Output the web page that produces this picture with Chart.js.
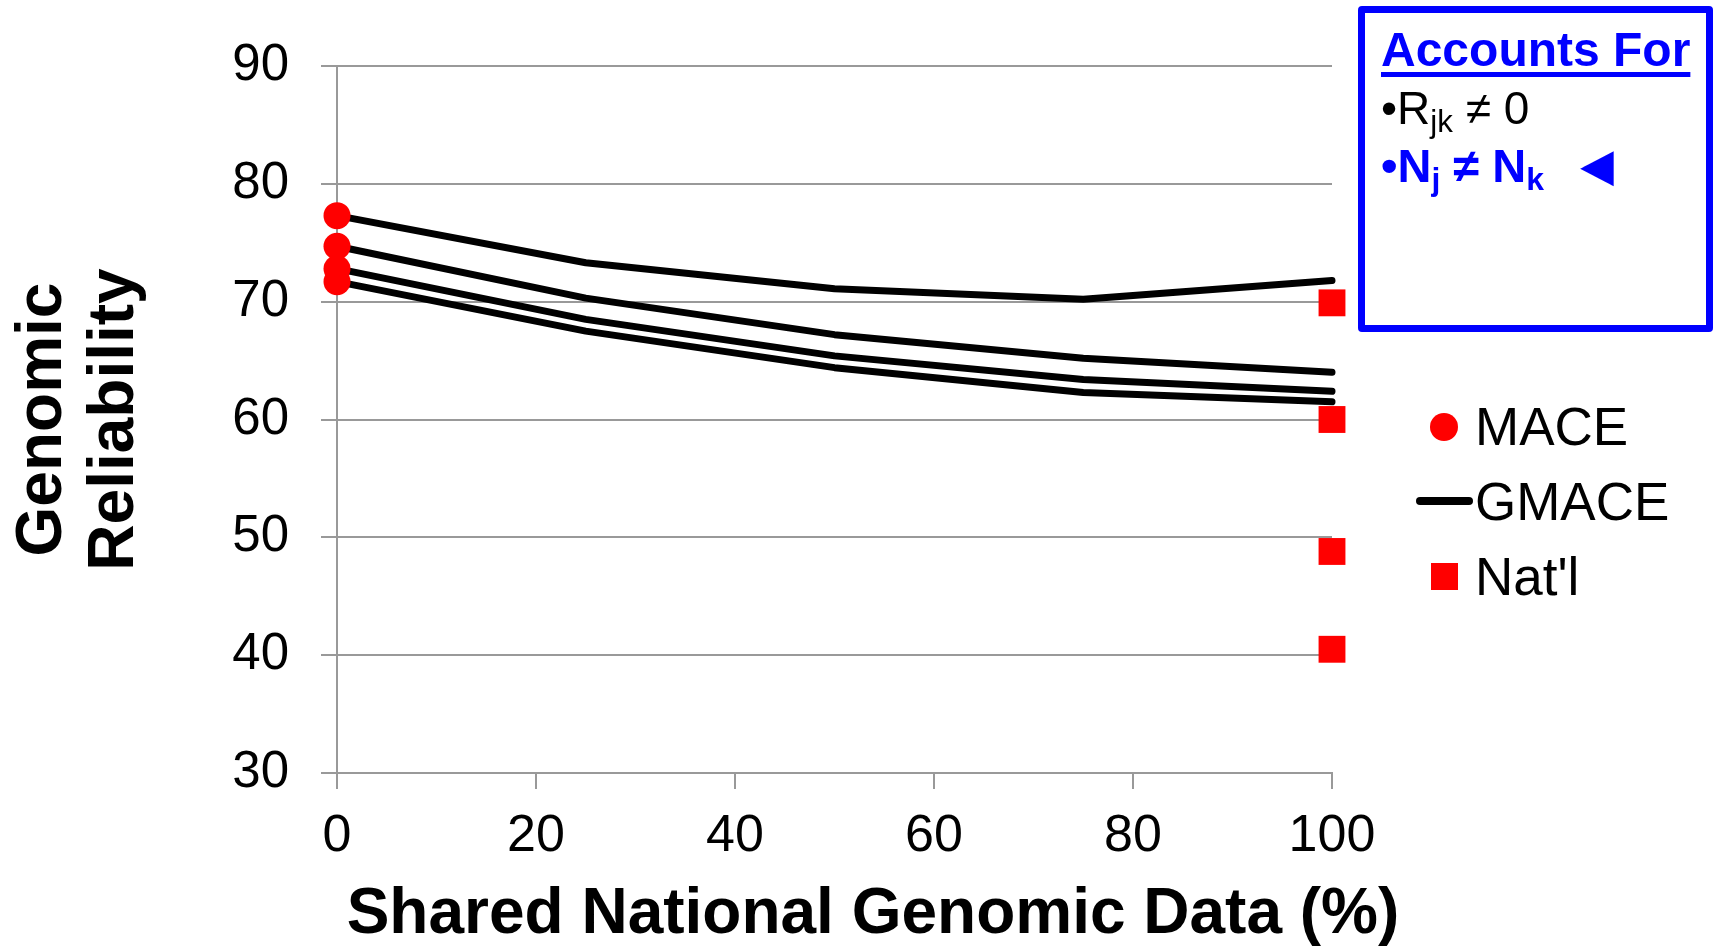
<!DOCTYPE html>
<html>
<head>
<meta charset="utf-8">
<script src="https://cdn.jsdelivr.net/npm/chart.js@4/dist/chart.umd.min.js"></script>
<style>
  body { margin: 0; overflow: hidden; background: #fff; font-family: 'Liberation Sans', Arial, sans-serif; }
  #wrap { position: relative; width: 1716px; height: 947px; }
  .abs { position: absolute; white-space: nowrap; line-height: 1; }
  sub { font-size: 0.68em; vertical-align: -0.25em; line-height: 0; }
  .box { position: absolute; left: 1358px; top: 6px; width: 355px; height: 326px; box-sizing: border-box;
         border: 7px solid #0000ff; border-radius: 4px; }
</style>
</head>
<body>
<div id="wrap">
  <canvas id="chart" width="1716" height="947"></canvas>

  <!-- x axis title -->
  <div class="abs" style="left:273px;width:1200px;text-align:center;top:879px;font-size:64px;font-weight:bold;">Shared National Genomic Data (%)</div>

  <!-- legend -->
  <div class="abs" style="left:1430px;top:413px;width:28px;height:28px;border-radius:50%;background:#ff0000;"></div>
  <div class="abs" style="left:1416px;top:497px;width:57px;height:8px;border-radius:4px;background:#000;"></div>
  <div class="abs" style="left:1431px;top:563px;width:27px;height:27px;background:#ff0000;"></div>
  <div class="abs" style="left:1475px;top:400px;font-size:53px;">MACE</div>
  <div class="abs" style="left:1475px;top:475px;font-size:53px;">GMACE</div>
  <div class="abs" style="left:1475px;top:550px;font-size:53px;">Nat'l</div>

  <!-- annotation box -->
  <div class="box"></div>
  <div class="abs" style="left:1381px;top:26px;font-size:48px;font-weight:bold;color:#0000ff;text-decoration:underline;text-decoration-thickness:5px;text-underline-offset:6px;">Accounts For</div>
  <div class="abs" style="left:1381px;top:85px;font-size:46px;color:#000;">•R<sub>jk</sub> ≠ 0</div>
  <div class="abs" style="left:1381px;top:142px;font-size:47px;font-weight:bold;color:#0000ff;">•N<sub>j</sub> ≠ N<sub>k</sub></div>
  <div class="abs" style="left:1580px;top:144px;font-size:44px;color:#0000ff;font-family:'DejaVu Sans',sans-serif;transform:scaleY(1.6);transform-origin:50% 60%;">◄</div>
</div>

<script>
// Data
const sharedPct = [0, 25, 50, 75, 100];
const gmaceA = [77.3, 73.3, 71.1, 70.2, 71.8];
const gmaceB = [74.7, 70.3, 67.2, 65.2, 64.0];
const gmaceC = [72.8, 68.5, 65.4, 63.4, 62.4];
const gmaceD = [71.7, 67.5, 64.4, 62.3, 61.5];
const maceX = [0, 0, 0, 0];
const maceY = [77.3, 74.7, 72.8, 71.7];
const natlX = [100, 100, 100, 100];
const natlY = [69.9, 60.0, 48.8, 40.5];
const yTicks = [30, 40, 50, 60, 70, 80, 90];
const xTicks = [0, 20, 40, 60, 80, 100];

const FONT = "'Liberation Sans', Arial, sans-serif";
const GRID = '#999999';

const toPts = (xs, ys) => xs.map((x, i) => ({x: x, y: ys[i]}));

function gmaceLine(vals) {
    return {
        label: 'GMACE',
        data: toPts(sharedPct, vals),
        showLine: true,
        borderColor: '#000000',
        borderWidth: 7,
        borderCapStyle: 'round',
        borderJoinStyle: 'round',
        pointRadius: 0,
        clip: false
    };
}

const ctx = document.getElementById('chart').getContext('2d');
new Chart(ctx, {
    type: 'scatter',
    data: {
        datasets: [
            {label: 'MACE', data: toPts(maceX, maceY), pointStyle: 'circle', pointRadius: 13.5,
             backgroundColor: '#ff0000', borderWidth: 0, clip: false},
            {label: "Nat'l", data: toPts(natlX, natlY), pointStyle: 'rect', pointRadius: 19,
             backgroundColor: '#ff0000', borderWidth: 0, clip: false},
            gmaceLine(gmaceA),
            gmaceLine(gmaceB),
            gmaceLine(gmaceC),
            gmaceLine(gmaceD)
        ]
    },
    options: {
        responsive: false,
        devicePixelRatio: 1,
        animation: false,
        layout: {padding: {top: 66, right: 384, bottom: 0, left: 0}},
        plugins: {legend: {display: false}, tooltip: {enabled: false}},
        scales: {
            x: {
                type: 'linear', min: 0, max: 100,
                afterBuildTicks: s => { s.ticks = xTicks.map(v => ({value: v})); },
                afterFit: s => { s.height = 174; },
                ticks: {color: '#000', padding: 16, font: {family: FONT, size: 52}},
                grid: {drawOnChartArea: false, drawTicks: true, tickLength: 16, color: GRID, lineWidth: 2},
                border: {color: GRID, width: 2}
            },
            y: {
                min: 30, max: 90,
                afterBuildTicks: s => { s.ticks = yTicks.map(v => ({value: v})); },
                afterFit: s => { s.width = 337; },
                ticks: {color: '#000', padding: 32, font: {family: FONT, size: 51}},
                grid: {color: GRID, lineWidth: 2, drawTicks: true, tickLength: 16},
                border: {color: GRID, width: 2},
                title: {display: true, text: ['Genomic', 'Reliability'], color: '#000',
                        padding: {top: 7, bottom: 0},
                        font: {family: FONT, size: 64, weight: 'bold', lineHeight: 1.125}}
            }
        }
    }
});
</script>
</body>
</html>
